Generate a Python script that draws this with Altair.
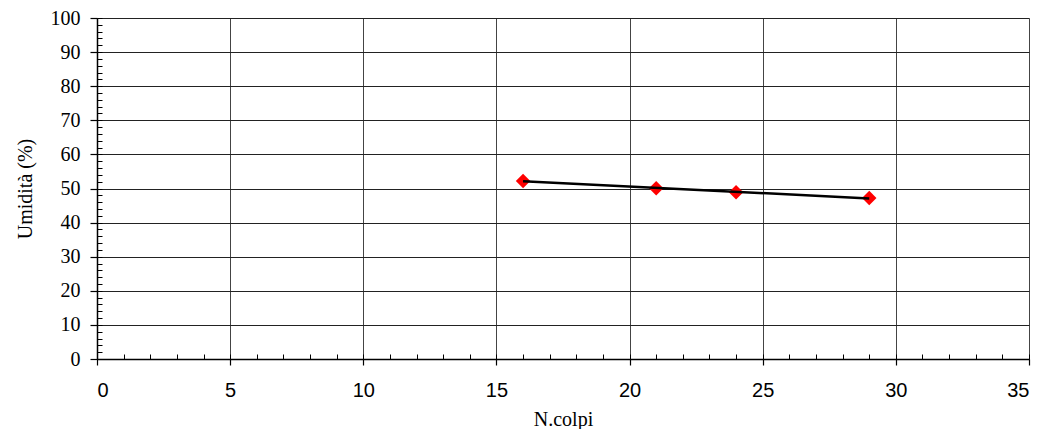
import altair as alt
import pandas as pd

# Data
n_colpi = [16, 21, 24, 29]
umidita = [52.2, 50.1, 48.9, 47.2]

x_major = [0, 5, 10, 15, 20, 25, 30, 35]
x_minor = list(range(0, 36))
y_major = list(range(0, 101, 10))
y_minor = list(range(0, 101, 2))

df = pd.DataFrame({"colpi": n_colpi, "umidita": umidita})

xs = alt.Scale(domain=[0, 35], nice=False, zero=False)
ys = alt.Scale(domain=[0, 100], nice=False, zero=False)

base = alt.Chart(df)

major = base.mark_point(opacity=0).encode(
    x=alt.X("colpi:Q", scale=xs, axis=alt.Axis(
        orient="bottom", values=x_major, grid=True, gridColor="#444444", gridWidth=1,
        tickSize=6, tickColor="black", tickWidth=1.2,
        domainColor="black", domainWidth=1.5,
        labelFont="Liberation Sans", labelFontSize=20, labelColor="black",
        labelPadding=15, labelAngle=0,
        title="N.colpi", titleFont="Liberation Serif", titleFontSize=20,
        titleFontWeight="normal", titleColor="black",
        titleY=66, titleBaseline="alphabetic")),
    y=alt.Y("umidita:Q", scale=ys, axis=alt.Axis(
        orient="left", values=y_major, grid=True, gridColor="#222222", gridWidth=1,
        tickSize=7, tickColor="black", tickWidth=1.2,
        domainColor="black", domainWidth=1.5,
        labelFont="Liberation Serif", labelFontSize=20, labelColor="black",
        labelPadding=10,
        title="Umidità (%)", titleFont="Liberation Serif", titleFontSize=20,
        titleFontWeight="normal", titleColor="black",
        titleX=-72, titleBaseline="middle")),
)

minor = base.mark_point(opacity=0).encode(
    x=alt.X("colpi:Q", scale=xs, axis=alt.Axis(
        orient="bottom", values=x_minor, offset=-5, tickSize=5, tickColor="black",
        tickWidth=1, labels=False, domain=False, grid=False, title="")),
    y=alt.Y("umidita:Q", scale=ys, axis=alt.Axis(
        orient="left", values=y_minor, offset=-5, tickSize=5, tickColor="black",
        tickWidth=1, labels=False, domain=False, grid=False, title="")),
)

points = base.mark_point(shape="diamond", filled=True, color="#ff0000",
                         size=210, opacity=1).encode(
    x=alt.X("colpi:Q", scale=xs, axis=None),
    y=alt.Y("umidita:Q", scale=ys, axis=None),
)

trend = base.transform_regression("colpi", "umidita").mark_line(
    color="black", strokeWidth=2.5).encode(
    x=alt.X("colpi:Q", scale=xs, axis=None),
    y=alt.Y("umidita:Q", scale=ys, axis=None),
)

chart = alt.layer(major, minor, points, trend).resolve_axis(
    x="independent", y="independent"
).properties(
    width=932, height=341,
    autosize=alt.AutoSizeParams(type="none"),
    padding={"left": 89, "top": 10, "right": 11, "bottom": 70},
).configure_view(
    stroke="#888888", strokeWidth=2
).configure(background="white")

chart.save("out.html", embed_options={"renderer": "svg", "actions": False})
